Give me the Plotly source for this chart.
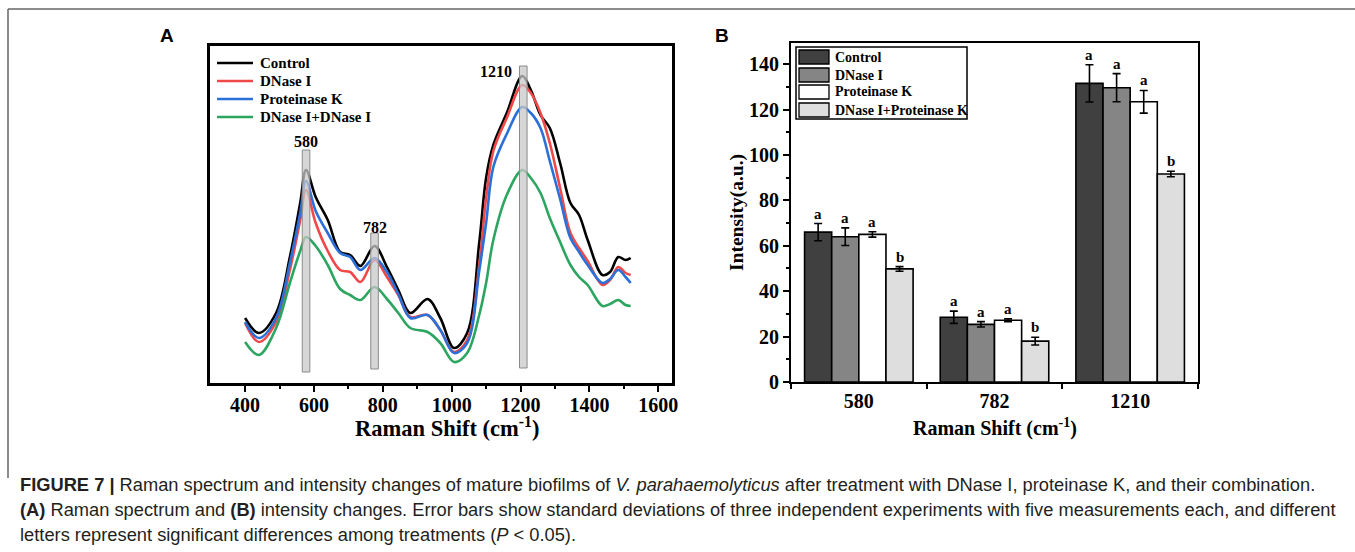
import plotly.graph_objects as go

W, H = 1355, 552

# ---------------- Panel A data (Raman spectra, arbitrary units) ----------------
raman_shift = [400, 440, 490, 530, 560, 577, 605, 640, 676, 705, 735, 776, 812, 845, 880,
               930, 967, 1007, 1045, 1080, 1100, 1121, 1160, 1205, 1230, 1258, 1285, 1315,
               1345, 1370, 1395, 1438, 1460, 1484, 1505, 1520]
control_int = [65, 50, 70, 126, 180, 213, 186, 163, 131, 128, 117, 137, 116, 93, 70,
               84, 65, 35, 50, 140, 205, 238, 270, 307, 293, 268, 255, 220,
               180, 168, 143, 108, 111, 126, 123, 125]
dnase_int = [60, 41, 61, 113, 163, 193, 160, 132, 113, 111, 101, 123, 106, 88, 66,
             68, 53, 31, 43, 118, 185, 232, 265, 298, 290, 270, 240, 195,
             150, 135, 122, 98, 103, 116, 110, 108]
protk_int = [61, 45, 65, 120, 170, 202, 172, 150, 130, 126, 113, 125, 111, 89, 65,
             68, 53, 30, 40, 112, 160, 216, 249, 276, 270, 255, 222, 184,
             145, 131, 118, 100, 104, 113, 106, 100]
combo_int = [41, 28, 55, 100, 132, 146, 137, 118, 94, 88, 83, 96, 84, 70, 55,
             51, 40, 21, 30, 68, 100, 143, 188, 213, 205, 190, 165, 141,
             118, 106, 98, 77, 79, 83, 78, 77]
spectra_names = ["Control", "DNase I", "Proteinase K", "DNase I+DNase I"]
spectra_colors = ["#000000", "#f04848", "#2a70d8", "#2ba55f"]

peak_centers = [577, 776, 1208]
peak_labels = ["580", "782", "1210"]
peak_band_bottom = [11, 14, 15]
peak_band_top = [233, 150, 317]

# ---------------- Panel B data (intensity at peaks) ----------------
categories = ["580", "782", "1210"]
bar_names = ["Control", "DNase I", "Proteinase K", "DNase I+Proteinase K"]
bar_colors = ["#404040", "#858585", "#ffffff", "#dedede"]
control_mean = [66.0, 28.5, 131.5]
control_sd = [3.8, 2.7, 8.2]
dnase_mean = [64.0, 25.4, 129.6]
dnase_sd = [3.9, 1.2, 6.2]
protk_mean = [65.0, 27.2, 123.4]
protk_sd = [1.2, 0.6, 5.0]
combo_mean = [49.8, 18.0, 91.6]
combo_sd = [1.0, 1.7, 1.2]
control_letters = ["a", "a", "a"]
dnase_letters = ["a", "a", "a"]
protk_letters = ["a", "a", "a"]
combo_letters = ["b", "b", "b"]

SERIF = "Liberation Serif, Times New Roman, serif"
SANS = "Liberation Sans, Arial, sans-serif"


def px_x(p):
    return p / W


def px_y(p):
    return 1 - p / H


fig = go.Figure()

for name, ys, col in zip(spectra_names, [control_int, dnase_int, protk_int, combo_int], spectra_colors):
    fig.add_trace(go.Scatter(
        x=raman_shift, y=ys, mode="lines", name=name, showlegend=False,
        line=dict(color=col, width=2.6, shape="spline", smoothing=1.0),
        xaxis="x", yaxis="y"))

means = [control_mean, dnase_mean, protk_mean, combo_mean]
sds = [control_sd, dnase_sd, protk_sd, combo_sd]
letters = [control_letters, dnase_letters, protk_letters, combo_letters]
for name, m, s, col in zip(bar_names, means, sds, bar_colors):
    fig.add_trace(go.Bar(
        x=categories, y=m, name=name, showlegend=False,
        marker=dict(color=col, line=dict(color="black", width=1.6)),
        error_y=dict(type="data", array=s, color="black", thickness=1.6, width=4),
        xaxis="x2", yaxis="y2"))

shapes = []
annotations = []


def text(x, y, s, size, family=SERIF, xref="paper", yref="paper", xanchor="center",
         yanchor="middle", color="black", **kw):
    d = dict(xref=xref, yref=yref, x=x, y=y, text=s, showarrow=False, xanchor=xanchor,
             yanchor=yanchor, font=dict(family=family, size=size, color=color))
    d.update(kw)
    annotations.append(d)


# peak bands in panel A
for c, b, t in zip(peak_centers, peak_band_bottom, peak_band_top):
    shapes.append(dict(type="rect", xref="x", yref="y", x0=c - 11, x1=c + 11, y0=b, y1=t,
                       fillcolor="rgba(200,200,200,0.75)", line=dict(color="#8a8a8a", width=1),
                       layer="above"))
text(peak_centers[0], peak_band_top[0] + 9, "<b>%s</b>" % peak_labels[0], 16, xref="x", yref="y")
text(peak_centers[1], peak_band_top[1] + 6, "<b>%s</b>" % peak_labels[1], 16, xref="x", yref="y")
text(peak_centers[2] - 28, peak_band_top[2] - 5, "<b>%s</b>" % peak_labels[2], 16, xref="x", yref="y",
     xanchor="right")

# manual legend for panel A
legA_rows = [63, 81, 99, 117]
for name, col, ry in zip(spectra_names, spectra_colors, legA_rows):
    shapes.append(dict(type="line", xref="paper", yref="paper", x0=px_x(217), x1=px_x(253),
                       y0=px_y(ry), y1=px_y(ry), line=dict(color=col, width=2.6)))
    text(px_x(258), px_y(ry), "<b>%s</b>" % name, 15, xanchor="left")

# letters above bars
for j in range(len(bar_names)):
    off = -0.3 + 0.2 * j
    for i in range(len(categories)):
        text(i + off, means[j][i] + sds[j][i], "<b>%s</b>" % letters[j][i], 15, xref="x2", yref="y2",
             yanchor="bottom", yshift=0)

# manual legend for panel B
shapes.append(dict(type="rect", xref="paper", yref="paper", x0=px_x(796), x1=px_x(967),
                   y0=px_y(119), y1=px_y(47), line=dict(color="black", width=1.5), fillcolor="white"))
row_tops = [50, 68, 85, 103]
for name, col, rt in zip(bar_names, bar_colors, row_tops):
    shapes.append(dict(type="rect", xref="paper", yref="paper", x0=px_x(799), x1=px_x(829),
                       y0=px_y(rt + 14), y1=px_y(rt), fillcolor=col, line=dict(color="black", width=1.3)))
    text(px_x(833), px_y(rt + 7), "<b>%s</b>" % name, 14, xanchor="left")

# axis titles
text(px_x(447), px_y(427), "<b>Raman Shift (cm<sup>-1</sup>)</b>", 22.5)
text(px_x(995), px_y(427), "<b>Raman Shift (cm<sup>-1</sup>)</b>", 20)
text(px_x(737), px_y(213), "<b>Intensity(a.u.)</b>", 19.5, textangle=-90)

# panel letters
text(px_x(167), px_y(36), "<b>A</b>", 19, family=SANS)
text(px_x(722), px_y(36), "<b>B</b>", 19, family=SANS)

# caption
caption_lines = [
    "<b>FIGURE 7 | </b>Raman spectrum and intensity changes of mature biofilms of <i>V. parahaemolyticus</i> after treatment with DNase I, proteinase K, and their combination.",
    "<b>(A)</b> Raman spectrum and <b>(B)</b> intensity changes. Error bars show standard deviations of three independent experiments with five measurements each, and different",
    "letters represent significant differences among treatments (<i>P</i> &lt; 0.05).",
]
for k, line in enumerate(caption_lines):
    text(px_x(18), px_y(484 + 25 * k), line, 18.3, family=SANS, xanchor="left", color="#231f20")

# figure frame lines (top and left)
shapes.append(dict(type="line", xref="paper", yref="paper", x0=px_x(8), x1=1, y0=px_y(9), y1=px_y(9),
                   line=dict(color="#666666", width=1.5)))
shapes.append(dict(type="line", xref="paper", yref="paper", x0=px_x(8), x1=px_x(8), y0=px_y(9), y1=px_y(478),
                   line=dict(color="#666666", width=1.5)))

tickfont = dict(family=SERIF, size=20, color="black", weight="bold")

fig.update_layout(
    width=W, height=H, margin=dict(l=0, r=0, t=0, b=0, autoexpand=False),
    paper_bgcolor="white", plot_bgcolor="white", showlegend=False,
    barmode="group", bargap=0.2, bargroupgap=0,
    xaxis=dict(domain=[px_x(210), px_x(672)], range=[298, 1640], anchor="y",
               tickvals=[400, 600, 800, 1000, 1200, 1400, 1600],
               ticks="outside", ticklen=6, tickwidth=2, tickcolor="black", ticklabelstandoff=-4,
               minor=dict(tickvals=[500, 700, 900, 1100, 1300, 1500], ticks="outside", ticklen=3,
                          tickwidth=1.5, tickcolor="black"),
               showline=True, linewidth=2.5, linecolor="black", mirror=True,
               showgrid=False, zeroline=False, tickfont=tickfont),
    yaxis=dict(domain=[px_y(383), px_y(46)], range=[0, 337], anchor="x",
               showticklabels=False, ticks="", showline=True, linewidth=2.5, linecolor="black",
               mirror=True, showgrid=False, zeroline=False),
    xaxis2=dict(domain=[px_x(791), px_x(1198)], anchor="y2", type="category",
                range=[-0.5, 2.5], tickson="boundaries", ticks="outside", ticklen=5, tickwidth=2,
                tickcolor="black", showline=True, linewidth=2.2, linecolor="black", mirror=True,
                showgrid=False, zeroline=False, tickfont=tickfont),
    yaxis2=dict(domain=[px_y(382), px_y(43)], anchor="x2", range=[0, 149.3], dtick=20,
                ticks="outside", ticklen=6, tickwidth=2, tickcolor="black",
                minor=dict(dtick=10, ticks="outside", ticklen=3, tickwidth=1.5, tickcolor="black"),
                showline=True, linewidth=2.2, linecolor="black", mirror=True,
                showgrid=False, zeroline=False, tickfont=tickfont),
    shapes=shapes, annotations=annotations,
)

fig.write_html("out.html")
